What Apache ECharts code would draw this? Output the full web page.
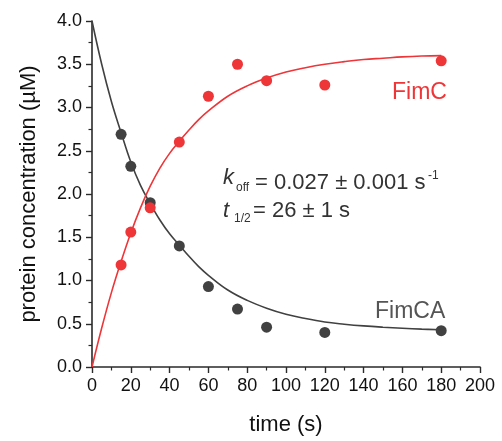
<!DOCTYPE html>
<html>
<head>
<meta charset="utf-8">
<script src="https://cdn.jsdelivr.net/npm/echarts@6/dist/echarts.min.js"></script>
<style>
html,body{margin:0;padding:0;background:#fff;}
#chart{width:502px;height:441px;}
</style>
</head>
<body>
<div id="chart"></div>
<script>
// measured data points
var timePoints = [15, 20, 30, 45, 60, 75, 90, 120, 180];
var fimcaValues = [2.69, 2.32, 1.90, 1.40, 0.93, 0.67, 0.46, 0.40, 0.42];
var fimcValues = [1.18, 1.56, 1.84, 2.60, 3.13, 3.50, 3.31, 3.26, 3.54];

// fitted curves
var fitTime = [0, 5, 10, 15, 20, 25, 30, 35, 40, 45, 50, 55, 60, 70, 80, 90, 100, 110, 120, 130, 140, 150, 160, 170, 180];
var fimcaFit = [4.00, 3.50, 3.07, 2.71, 2.37, 2.10, 1.89, 1.70, 1.54, 1.41, 1.28, 1.16, 1.06, 0.89, 0.77, 0.68, 0.61, 0.56, 0.52, 0.495, 0.475, 0.46, 0.448, 0.438, 0.43];
var fimcFit = [0.00, 0.45, 0.86, 1.22, 1.55, 1.84, 2.09, 2.30, 2.47, 2.61, 2.74, 2.86, 2.96, 3.13, 3.25, 3.34, 3.41, 3.46, 3.50, 3.53, 3.555, 3.57, 3.585, 3.595, 3.60];

var xTicks = {min: 0, max: 200, interval: 20};
var yTicks = {min: 0, max: 4, interval: 0.5};

function zip(xs, ys) { return xs.map(function (x, i) { return [x, ys[i]]; }); }

var FONT = 'Liberation Sans, Arial, sans-serif';
var RED = '#ee3538';
var GRAY = '#414141';
var AXIS = '#2a2a2a';

var chart = echarts.init(document.getElementById('chart'), null, {renderer: 'canvas'});
chart.setOption({
  animation: false,
  backgroundColor: '#ffffff',
  grid: {left: 92, top: 21, width: 388, height: 350, containLabel: false},
  xAxis: {
    type: 'value', min: xTicks.min, max: xTicks.max, interval: xTicks.interval,
    name: 'time (s)', nameLocation: 'middle', nameGap: 47,
    nameTextStyle: {fontFamily: FONT, fontSize: 22, color: '#111'},
    axisLine: {show: true, onZero: false, lineStyle: {color: AXIS, width: 1.6}},
    axisTick: {show: true, inside: false, length: 6, lineStyle: {color: AXIS, width: 1.4}},
    minorTick: {show: true, splitNumber: 2, length: 3.5, lineStyle: {color: AXIS, width: 1.2}},
    axisLabel: {fontFamily: FONT, fontSize: 18, color: '#111', margin: 10},
    splitLine: {show: false}
  },
  yAxis: {
    type: 'value', min: yTicks.min, max: yTicks.max, interval: yTicks.interval,
    name: 'protein concentration (\u00b5M)', nameLocation: 'middle', nameGap: 52,
    nameTextStyle: {fontFamily: FONT, fontSize: 22, color: '#111'},
    axisLine: {show: true, onZero: false, lineStyle: {color: AXIS, width: 1.6}},
    axisTick: {show: true, inside: false, length: 6, lineStyle: {color: AXIS, width: 1.4}},
    minorTick: {show: true, splitNumber: 2, length: 3.5, lineStyle: {color: AXIS, width: 1.2}},
    axisLabel: {fontFamily: FONT, fontSize: 18, color: '#111', margin: 10,
      formatter: function (v) { return v.toFixed(1); }},
    splitLine: {show: false}
  },
  series: [
    {type: 'line', name: 'FimCA fit', data: zip(fitTime, fimcaFit), smooth: 0.4,
      showSymbol: false, symbol: 'none', lineStyle: {color: GRAY, width: 1.6}, z: 2},
    {type: 'line', name: 'FimC fit', data: zip(fitTime, fimcFit), smooth: 0.4,
      showSymbol: false, symbol: 'none', lineStyle: {color: RED, width: 1.6}, z: 2},
    {type: 'scatter', name: 'FimCA', data: zip(timePoints, fimcaValues), symbolSize: 11,
      itemStyle: {color: GRAY, opacity: 1}, z: 3},
    {type: 'scatter', name: 'FimC', data: zip(timePoints, fimcValues), symbolSize: 11,
      itemStyle: {color: RED, opacity: 1}, z: 4}
  ],
  graphic: [
    {type: 'text', left: 392, top: 81, style: {text: 'FimC', fontFamily: FONT, fontSize: 23, fill: RED}},
    {type: 'text', left: 375, top: 300, style: {text: 'FimCA', fontFamily: FONT, fontSize: 23, fill: '#555'}},
    {type: 'text', x: 223, y: 189, style: {text: 'k', fontFamily: FONT, fontSize: 22, fontStyle: 'italic', fill: '#333', verticalAlign: 'bottom'}},
    {type: 'text', x: 236, y: 194, style: {text: 'off', fontFamily: FONT, fontSize: 12, fill: '#333', verticalAlign: 'bottom'}},
    {type: 'text', x: 255, y: 194, style: {text: '= 0.027 \u00b1 0.001 s', fontFamily: FONT, fontSize: 22, fill: '#333', verticalAlign: 'bottom'}},
    {type: 'text', x: 428, y: 182, style: {text: '-1', fontFamily: FONT, fontSize: 12, fill: '#333', verticalAlign: 'bottom'}},
    {type: 'text', x: 223, y: 222, style: {text: 't', fontFamily: FONT, fontSize: 22, fontStyle: 'italic', fill: '#333', verticalAlign: 'bottom'}},
    {type: 'text', x: 234, y: 225, style: {text: '1/2', fontFamily: FONT, fontSize: 12, fill: '#333', verticalAlign: 'bottom'}},
    {type: 'text', x: 253, y: 222, style: {text: '= 26 \u00b1 1 s', fontFamily: FONT, fontSize: 22, fill: '#333', verticalAlign: 'bottom'}}
  ]
});
</script>
</body>
</html>
